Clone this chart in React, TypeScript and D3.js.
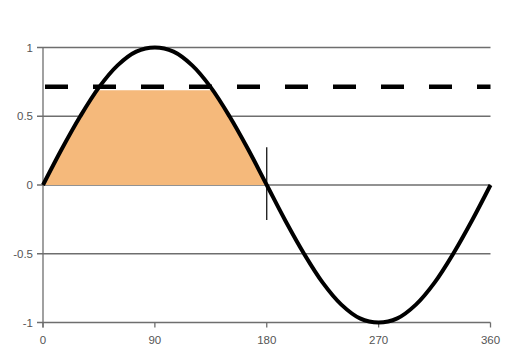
import React from "react";
import * as d3 from "d3";

const angles = [0, 15, 30, 45, 60, 75, 90, 105, 120, 135, 150, 165, 180, 195, 210, 225, 240, 255, 270, 285, 300, 315, 330, 345, 360];
const values = [0, 0.26, 0.5, 0.71, 0.87, 0.97, 1, 0.97, 0.87, 0.71, 0.5, 0.26, 0, -0.26, -0.5, -0.71, -0.87, -0.97, -1, -0.97, -0.87, -0.71, -0.5, -0.26, 0];
const xTicks = [0, 90, 180, 270, 360];
const yTicks = [-1, -0.5, 0, 0.5, 1];
const yTickLabels = ["-1", "-0.5", "0", "0.5", "1"];
const thresholdLevel = 0.715;
const fillCap = 0.69;
const fillEnd = 180;
const markerX = 180;
const markerRange = [-0.255, 0.275];

export default function App() {
  const W = 512, H = 356;
  const x = d3.scaleLinear().domain([0, 360]).range([43, 490.5]);
  const y = d3.scaleLinear().domain([-1, 1]).range([322.5, 47.5]);
  const pts = angles.map((a, i) => [a, values[i]] as [number, number]);
  const line = d3.line<[number, number]>().x(d => x(d[0])).y(d => y(d[1])).curve(d3.curveCatmullRom.alpha(0.5));
  const fillPts = pts.filter(p => p[0] <= fillEnd);
  const area = d3.area<[number, number]>().x(d => x(d[0])).y0(y(0)).y1(d => y(d[1])).curve(d3.curveCatmullRom.alpha(0.5));
  const gridColor = "#6e6e6e";
  const labelColor = "#555";
  return (
    <svg width={W} height={H} style={{ position: "absolute", left: 0, top: 0 }} fontFamily="Liberation Sans, Arial, sans-serif">
      <defs>
        <clipPath id="cap">
          <rect x={x(0)} y={y(fillCap)} width={x(fillEnd) - x(0)} height={y(0) - y(fillCap)} />
        </clipPath>
      </defs>
      <rect width={W} height={H} fill="#fff" />
      {yTicks.map((t) => (
        <line key={"g" + t} x1={37} x2={x(360)} y1={y(t)} y2={y(t)} stroke={gridColor} strokeWidth={1.3} />
      ))}
      <line x1={x(0)} x2={x(0)} y1={y(1)} y2={y(-1) + 5} stroke={gridColor} strokeWidth={1.3} />
      {xTicks.map((t) => (
        <line key={"xt" + t} x1={x(t)} x2={x(t)} y1={y(-1)} y2={y(-1) + 5} stroke={gridColor} strokeWidth={1.3} />
      ))}
      {yTicks.map((t, i) => (
        <text key={"yl" + t} x={33} y={y(t) + 4} textAnchor="end" fontSize={11.5} fill={labelColor}>{yTickLabels[i]}</text>
      ))}
      {xTicks.map((t) => (
        <text key={"xl" + t} x={x(t)} y={344} textAnchor="middle" fontSize={11.5} fill={labelColor}>{t}</text>
      ))}
      <path d={area(fillPts) || ""} fill="#F5B97B" clipPath="url(#cap)" />
      <line x1={x(0) + 2} x2={x(360)} y1={y(thresholdLevel)} y2={y(thresholdLevel)} stroke="#000" strokeWidth={4.5} strokeDasharray="23 25" />
      <line x1={x(markerX)} x2={x(markerX)} y1={y(markerRange[1])} y2={y(markerRange[0])} stroke="#000" strokeWidth={1.2} />
      <path d={line(pts) || ""} fill="none" stroke="#000" strokeWidth={4} />
    </svg>
  );
}
